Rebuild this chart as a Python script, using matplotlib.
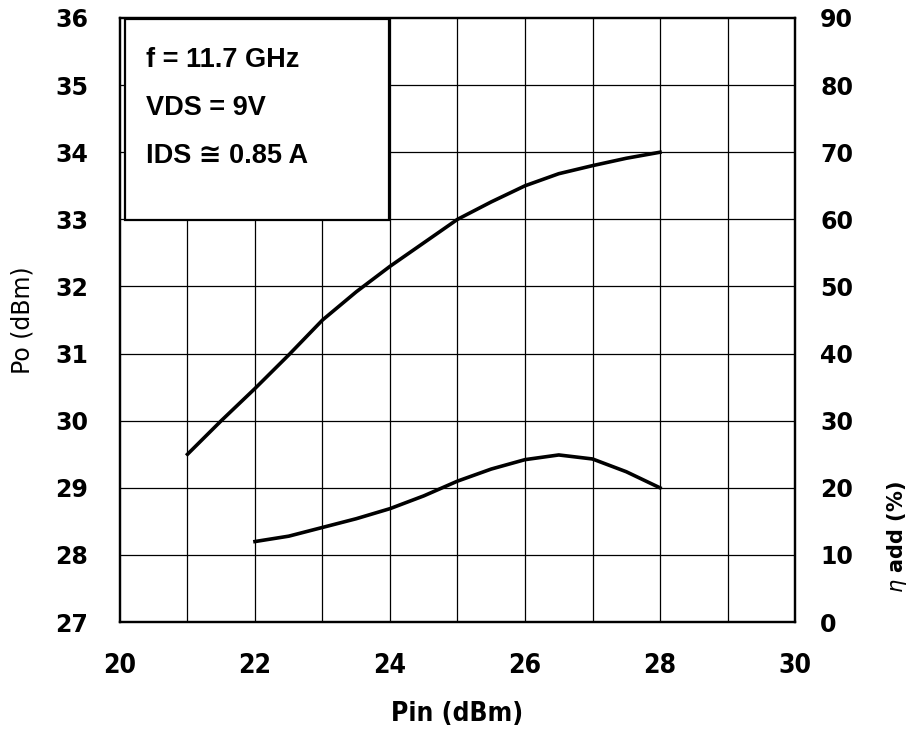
import matplotlib
matplotlib.use("Agg")
import matplotlib.pyplot as plt
from matplotlib.patches import Rectangle

# Po (left axis) vs Pin
pin_po = [21, 21.5, 22, 22.5, 23, 23.5, 24, 24.5, 25, 25.5, 26, 26.5, 27, 27.5, 28]
po = [29.5, 30.0, 30.48, 30.98, 31.5, 31.92, 32.3, 32.65, 33.0, 33.26, 33.5, 33.68, 33.8, 33.91, 34.0]

# efficiency (right axis) vs Pin
pin_eff = [22, 22.5, 23, 23.5, 24, 24.5, 25, 25.5, 26, 26.5, 27, 27.5, 28]
eff = [12.0, 12.8, 14.1, 15.4, 16.9, 18.8, 21.0, 22.8, 24.2, 24.9, 24.3, 22.4, 20.0]

xticks = [20, 22, 24, 26, 28, 30]
yticks_left = list(range(27, 37))
yticks_right = list(range(0, 100, 10))
notes = ["f = 11.7 GHz", "VDS = 9V", "IDS \u2245 0.85 A"]

fig = plt.figure(figsize=(9.09, 7.31), dpi=100)
ax = fig.add_axes([0.132, 0.149, 0.7426, 0.8264])
ax2 = ax.twinx()

ax.set_xlim(20, 30)
ax.set_ylim(27, 36)
ax2.set_ylim(0, 90)

# grid every 1 dBm
for x in range(21, 30):
    ax.axvline(x, color="black", lw=0.9, zorder=1)
for y in yticks_left[1:-1]:
    ax.axhline(y, color="black", lw=0.9, zorder=1)

ax.set_xticks(xticks)
ax.set_xticklabels([str(t) for t in xticks], fontsize=19, fontweight="bold",
                   fontstretch="condensed")
ax.set_yticks(yticks_left)
ax.set_yticklabels([str(t) for t in yticks_left], fontsize=17, fontweight="bold")
ax2.set_yticks(yticks_right)
ax2.set_yticklabels([str(t) for t in yticks_right], fontsize=17, fontweight="bold")

ax.tick_params(axis="y", length=0, pad=23)
ax.tick_params(axis="x", length=0, pad=22)
ax2.tick_params(axis="y", length=0, pad=18)

for a in (ax, ax2):
    for s in a.spines.values():
        s.set_linewidth(1.6)

# info box
box = Rectangle((20.07, 32.99), 3.92, 3.0, facecolor="white", edgecolor="black",
                lw=1.6, zorder=3)
ax.add_patch(box)
for i, t in enumerate(notes):
    ax.text(20.38, 35.37 - i * 0.71, t, fontsize=19.5, fontweight="bold",
            family=["Liberation Sans", "DejaVu Sans"], va="center", zorder=4)

ax.plot(pin_po, po, color="black", lw=2.6, zorder=5)
ax2.plot(pin_eff, eff, color="black", lw=2.6, zorder=5)

ax.set_xlabel("Pin (dBm)", fontsize=19, fontweight="semibold", fontstretch="condensed")
ax.xaxis.set_label_coords(0.5, -0.131)
ax.set_ylabel("Po (dBm)", fontsize=17)
ax.yaxis.set_label_coords(-0.127, 0.5)
ax2.set_ylabel(r"$\eta$ add (%)", fontsize=15, fontweight="bold")
ax2.yaxis.set_label_coords(1.133, 0.14)

fig.savefig("out.png", dpi=100)
